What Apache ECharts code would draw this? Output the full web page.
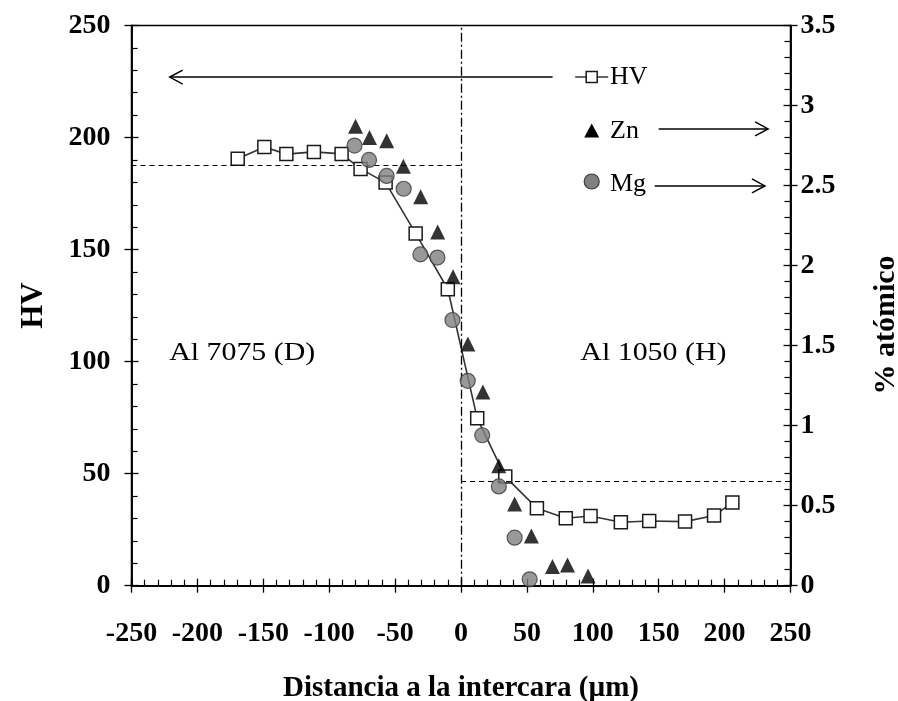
<!DOCTYPE html>
<html>
<head>
<meta charset="utf-8">
<script src="https://cdn.jsdelivr.net/npm/echarts@6/dist/echarts.min.js"></script>
<style>html,body{margin:0;padding:0;background:#fff}#c{width:898px;height:701px}</style>
</head>
<body>
<div id="c"></div>
<script>
// Data
const hvX = [-169.4,-149.2,-132.5,-111.6,-90.6,-76.2,-57.2,-34.4,-10.0,12.3,33.6,57.6,79.5,98.3,121.3,142.8,170.0,192.0,205.9];
const hvY = [190.5,195.8,192.6,193.6,192.7,186.0,179.9,157.2,132.3,74.7,48.7,34.6,30.1,31.1,28.3,28.9,28.6,31.3,37.1];
const znX = [-80.0,-69.4,-56.4,-43.7,-30.6,-17.7,-6.0,5.2,16.6,28.7,40.7,53.4,69.4,80.8,96.4];
const znY = [2.87,2.80,2.78,2.62,2.43,2.21,1.93,1.51,1.21,0.75,0.51,0.31,0.12,0.13,0.06];
const mgX = [-80.8,-69.8,-56.4,-43.5,-30.8,-17.9,-6.5,5.1,16.1,28.7,40.7,52.1];
const mgY = [2.75,2.66,2.56,2.48,2.07,2.05,1.66,1.28,0.94,0.62,0.30,0.04];
const hvLevelLeft = 187.7;   // dashed HV level of Al 7075
const hvLevelRight = 46.7;   // dashed HV level of Al 1050
const xRange = [-250, 250];
const hvRange = [0, 250];
const atRange = [0, 3.5];
const seriesNames = ['HV', 'Zn', 'Mg'];
const regionLabels = [
  {text: 'Al 7075 (D)', x: -166, y: 104.3},
  {text: 'Al 1050 (H)', x: 146, y: 104.3}
];
// arrows (axis 0 = HV, 2 = % atómico)
const arrows = [
  {x1: 69.5, x2: -221, y: 227, axis: 0},
  {x1: 150, x2: 233, y: 2.854, axis: 2},
  {x1: 147, x2: 230.6, y: 2.498, axis: 2}
];

const FONT = 'Liberation Serif';
const zip = (a, b) => a.map((v, i) => [v, b[i]]);

const chart = echarts.init(document.getElementById('c'), null, {renderer: 'canvas'});

const lblStyle = {color: '#000', fontFamily: FONT, fontWeight: 'bold', fontSize: 28};

function xAx(inner) {
  return {
    type: 'value', min: xRange[0], max: xRange[1], interval: 50, position: 'bottom',
    axisLine: {show: true, onZero: false, lineStyle: {color: '#000', width: 1.5}},
    axisTick: {show: true, inside: inner, length: 7, lineStyle: {color: '#000', width: 1.3}},
    minorTick: {show: inner, splitNumber: 5, length: 6, lineStyle: {color: '#000', width: 1.2}},
    splitLine: {show: false},
    axisLabel: inner ? Object.assign({show: true, margin: 34}, lblStyle) : {show: false},
    name: inner ? 'Distancia a la intercara (µm)' : '',
    nameLocation: 'middle', nameGap: 88,
    nameTextStyle: {color: '#000', fontFamily: FONT, fontWeight: 'bold', fontSize: 29}
  };
}
function yAx(pos, inner, range, interval, name, gap, labelMargin) {
  return {
    type: 'value', min: range[0], max: range[1], interval: interval, position: pos,
    axisLine: {show: true, onZero: false, lineStyle: {color: '#000', width: 1.5}},
    axisTick: {show: true, inside: inner, length: 7, lineStyle: {color: '#000', width: 1.3}},
    minorTick: {show: inner, splitNumber: 5, length: 6, lineStyle: {color: '#000', width: 1.2}},
    splitLine: {show: false},
    axisLabel: inner ? Object.assign({show: true, margin: labelMargin}, lblStyle) : {show: false},
    name: inner ? name : '',
    nameLocation: 'middle', nameGap: gap, nameRotate: 90,
    nameTextStyle: {color: '#000', fontFamily: FONT, fontWeight: 'bold', fontSize: 31}
  };
}

const option = {
  animation: false,
  backgroundColor: '#fff',
  grid: {left: 131.5, right: 107.5, top: 25.5, bottom: 115.3, containLabel: false, outerBoundsMode: 'none',
         show: true, borderColor: '#000', borderWidth: 1.5, backgroundColor: 'transparent'},
  xAxis: [xAx(true), xAx(false)],
  yAxis: [
    yAx('left', true, hvRange, 50, 'HV', 82, 21),
    yAx('left', false, hvRange, 50, '', 0, 0),
    yAx('right', true, atRange, 0.5, '', 84, 10),
    yAx('right', false, atRange, 0.5, '', 0, 0)
  ],
  series: [
    {
      name: seriesNames[0], type: 'line', xAxisIndex: 0, yAxisIndex: 0,
      data: zip(hvX, hvY), symbol: 'rect', symbolSize: 13,
      itemStyle: {color: '#fff', borderColor: '#1a1a1a', borderWidth: 1.5},
      lineStyle: {color: '#333', width: 1.6},
      z: 3,
      markLine: {
        silent: true, symbol: 'none', label: {show: false}, animation: false,
        data: [
          {xAxis: 0, lineStyle: {color: '#000', width: 1.3, type: [9, 3, 2, 3]}},
          [{coord: [xRange[0], hvLevelLeft]}, {coord: [0, hvLevelLeft]}],
          [{coord: [0, hvLevelRight]}, {coord: [xRange[1], hvLevelRight]}]
        ],
        lineStyle: {color: '#000', width: 1.2, type: [5, 4]}
      }
    },
    {
      name: seriesNames[1], type: 'scatter', xAxisIndex: 0, yAxisIndex: 2,
      data: zip(znX, znY), symbol: 'triangle', symbolSize: 15,
      itemStyle: {color: '#000'}, z: 4
    },
    {
      name: seriesNames[2], type: 'scatter', xAxisIndex: 0, yAxisIndex: 2,
      data: zip(mgX, mgY), symbol: 'circle', symbolSize: 15,
      itemStyle: {color: '#808080', borderColor: '#3a3a3a', borderWidth: 1.2}, z: 5
    }
  ]
};
chart.setOption(option);

// annotations (arrows, region names, legend, right axis title)
const g = [];
arrows.forEach(a => {
  const p1 = chart.convertToPixel({xAxisIndex: 0, yAxisIndex: a.axis}, [a.x1, a.y]);
  const p2 = chart.convertToPixel({xAxisIndex: 0, yAxisIndex: a.axis}, [a.x2, a.y]);
  const dir = Math.sign(p2[0] - p1[0]);
  g.push({type: 'line', shape: {x1: p1[0], y1: p1[1], x2: p2[0], y2: p2[1]}, style: {stroke: '#000', lineWidth: 1.5}, z: 10});
  g.push({type: 'polyline', shape: {points: [[p2[0] - dir * 13, p2[1] - 7], [p2[0], p2[1]], [p2[0] - dir * 13, p2[1] + 7]]}, style: {stroke: '#000', lineWidth: 1.5, fill: null}, z: 10});
});
regionLabels.forEach(r => {
  const p = chart.convertToPixel({xAxisIndex: 0, yAxisIndex: 0}, [r.x, r.y - 0.6]);
  g.push({type: 'text', x: p[0], y: p[1], scaleX: 1.15, style: {text: r.text, fill: '#000', font: '26px "Liberation Serif"', align: 'center', verticalAlign: 'middle'}, z: 10});
});
// legend
const lgX = 591.7, lgText = 610;
const lgY = [77, 131, 184];
g.push({type: 'line', shape: {x1: lgX - 16.5, y1: lgY[0], x2: lgX + 16.5, y2: lgY[0]}, style: {stroke: '#333', lineWidth: 1.5}, z: 10});
g.push({type: 'rect', shape: {x: lgX - 5.5, y: lgY[0] - 5.5, width: 11, height: 11}, style: {fill: '#fff', stroke: '#1a1a1a', lineWidth: 1.5}, z: 11});
g.push({type: 'polygon', shape: {points: [[lgX, lgY[1] - 7.5], [lgX + 7.5, lgY[1] + 6.5], [lgX - 7.5, lgY[1] + 6.5]]}, style: {fill: '#000'}, z: 10});
g.push({type: 'circle', shape: {cx: lgX, cy: lgY[2] - 2.5, r: 7.5}, style: {fill: '#808080', stroke: '#3a3a3a', lineWidth: 1.2}, z: 10});
seriesNames.forEach((n, i) => {
  g.push({type: 'text', x: lgText, y: lgY[i], style: {text: n, fill: '#000', font: '26px "Liberation Serif"', align: 'left', verticalAlign: 'middle'}, z: 10});
});
// right axis title
g.push({type: 'text', x: 886, y: 325, rotation: Math.PI / 2, style: {text: '% atómico', fill: '#000', font: 'bold 30px "Liberation Serif"', align: 'center', verticalAlign: 'middle'}, z: 10});
chart.setOption({graphic: g});
</script>
</body>
</html>
